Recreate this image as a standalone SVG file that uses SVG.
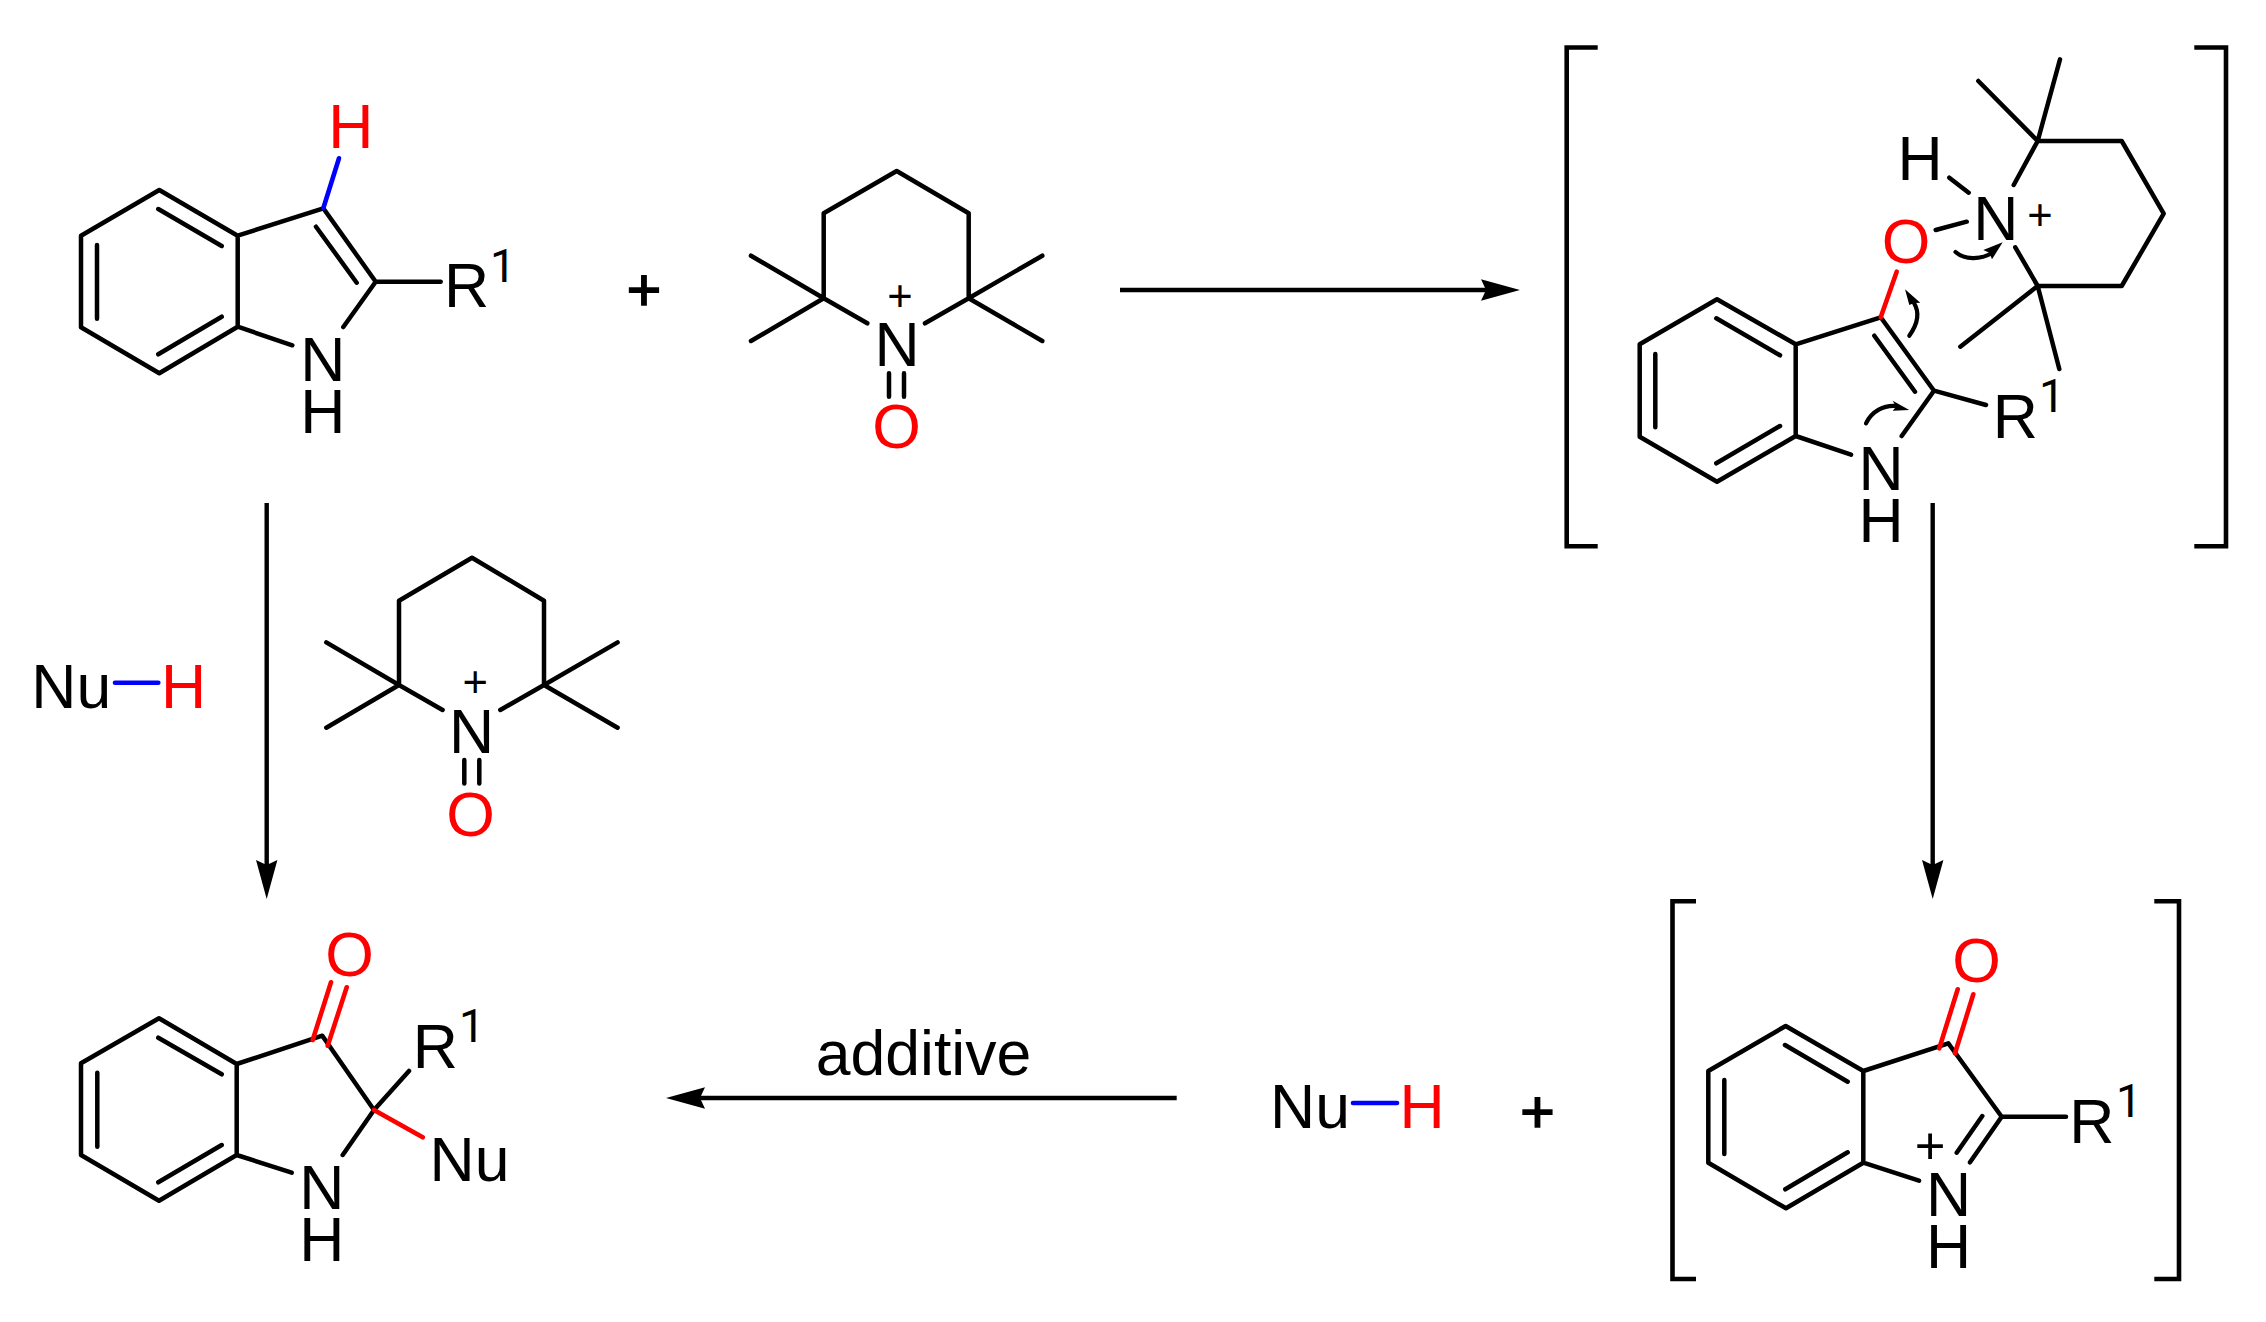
<svg xmlns="http://www.w3.org/2000/svg" width="2266" height="1322" viewBox="0 0 2266 1322">
<style>
text{font-family:"Liberation Sans",Arial,sans-serif;font-size:62.5px;fill:#000}
.m{text-anchor:middle}
.r{fill:#f00}
.sup{font-family:Roboto,"Liberation Sans",sans-serif;font-size:46px}
.p1{font-size:43.5px;text-anchor:middle}
.p2{font-size:59px;text-anchor:middle;stroke:#000;stroke-width:1.6}
.p3{font-size:52.6px;text-anchor:middle}
.add{font-size:62.5px;text-anchor:middle}
.b{fill:none;stroke:#000;stroke-width:4.5;stroke-linecap:round;stroke-linejoin:round}
.rb{fill:none;stroke:#f00;stroke-width:4.6;stroke-linecap:round}
.bb{fill:none;stroke:#00f;stroke-width:4.6;stroke-linecap:round}
.br{fill:none;stroke:#000;stroke-width:4.6}
.ar{fill:none;stroke:#000;stroke-width:4.4;marker-end:url(#head)}
.ca{fill:none;stroke:#000;stroke-width:4.2;stroke-linecap:round}
</style>
<defs>
<marker id="head" markerUnits="userSpaceOnUse" markerWidth="40" markerHeight="22" refX="14" refY="10.7" orient="auto" overflow="visible">
<path d="M0,0L39,10.7L0,21.4L5,10.7Z" fill="#000"/>
</marker>
</defs>
<g id="connectors">
<line class="ar" x1="1120" y1="290" x2="1495" y2="290"/>
<line class="ar" x1="266.7" y1="503" x2="266.7" y2="874"/>
<line class="ar" x1="1932.7" y1="503" x2="1932.7" y2="874"/>
<line class="ar" x1="1176.7" y1="1098" x2="691" y2="1098"/>
</g>
<g id="indole-reactant">
<path class="b" d="M159.3,190L81,235.7V327.3L159.3,373.3L237.7,326.7V235.7ZM158.3,209L221.7,246M97,245V318.7M158.3,354.3L221.7,316.7M237.7,235.7L323.3,208.3L375.7,281.7L343.3,327M316,226.7L356.7,282.7M237.7,326.7L292.3,345.3M375.7,281.7H440.7"/>
<path class="bb" d="M323.3,208.3L339,158.3"/>
<text class="m r" x="350.8" y="147.7">H</text>
<text x="444" y="306.7">R</text>
<text class="sup" x="490" y="281.7">1</text>
<text class="m" x="322.8" y="380.7">N</text>
<text class="m" x="322.8" y="432.5">H</text>
</g>
<text id="plus-1" class="p2" x="644" y="310">+</text>
<g id="tempo-1">
<path class="b" d="M867.3,323.3L823.7,298.3V213.3L896.7,171L968.7,213.3V298.3L925,323.3M751,255.7L823.7,298.3L751,341M1042.3,255.7L968.7,298.3L1042.3,341M889,373.3V396.7M904,373.3V396.7"/>
<text class="p1" x="900" y="310.5">+</text>
<text class="m" x="897" y="366">N</text>
<text class="m r" x="896.5" y="448.3">O</text>
</g>
<g id="intermediate">
<path class="br" d="M1597.7,47.5H1566.7V546.3H1597.7M2194.3,47.5H2226V546.3H2194.3"/>
<path class="b" d="M1717,299.3L1639.7,344.3V436.7L1717,481.7L1795.7,436V344.3ZM1716.3,318.3L1780,355.3M1655.3,354V427.3M1716.3,463.3L1780,426M1795.7,344.3L1880.7,317.3L1934,390.7L1901.7,436M1874.3,335.7L1915,391.7M1795.7,436L1851,454.7M1934,390.7L1986,405"/>
<path class="rb" d="M1880.7,317.3L1896.7,271.7"/>
<path class="b" d="M1935.7,230L1966.7,221.7M1949.3,177.7L1968.7,192.7M2013.7,185L2037.7,141H2121.7L2163.7,213.7L2121.7,286H2037.7L2015.3,247.3M2060,59.3L2037.7,141L1978.3,81M1960.3,346.7L2037.7,286L2059.3,369"/>
<text class="m r" x="1906" y="262.5">O</text>
<text class="m" x="1920" y="180">H</text>
<text class="m" x="1995.8" y="240">N</text>
<text class="p1" x="2040" y="230">+</text>
<text x="1992.7" y="437.5">R</text>
<text class="sup" x="2039" y="412.3">1</text>
<text class="m" x="1881" y="490">N</text>
<text class="m" x="1881" y="541.7">H</text>
<path class="ca" d="M1955.5,252C1965,260 1980,260 1992,253"/>
<path d="M2002.7,242.3L1983.3,250L1989.3,252.7L1992,259.3Z"/>
<path class="ca" d="M1909.3,335.7C1917,325 1920,313 1914,303"/>
<path d="M1905,289.3L1920.3,302.7L1914.3,303L1909.3,305Z"/>
<path class="ca" d="M1866,423.3C1872,411 1884,405 1896,406"/>
<path d="M1909.3,410L1892.7,400.7L1896,406.7L1892.7,410.7Z"/>
</g>
<g id="nu-h-left">
<text x="31.3" y="707.7">Nu</text>
<path class="bb" d="M115,682.7H158.3"/>
<text class="m r" x="183.5" y="707.7">H</text>
</g>
<g id="tempo-2">
<path class="b" d="M442.6,710L399,685V600.7L472,557.7L544,600.7V685L500.3,710M326.3,642.4L399,685L326.3,727.7M617.6,642.4L544,685L617.6,727.7M464.3,760V783.4M479.3,760V783.4"/>
<text class="p1" x="475.3" y="697.2">+</text>
<text class="m" x="471.5" y="752.7">N</text>
<text class="m r" x="470.6" y="835.7">O</text>
</g>
<g id="product">
<path class="b" d="M159,1018.3L81,1063.3V1155L159,1200.7L236.7,1155V1064ZM158.3,1037.7L221.7,1074.3M97.3,1072.7V1146.7M158.3,1182.3L221.7,1145M236.7,1064L322.3,1035.7L374,1110L342.7,1155M236.7,1155L291.7,1172.7M374,1110L409,1071"/>
<path class="rb" d="M312.7,1040L331,982.3M327.7,1045.7L346.7,987.3M374,1110L422.7,1137.3"/>
<text class="m r" x="349.5" y="976">O</text>
<text x="412.7" y="1067.7">R</text>
<text class="sup" x="459" y="1041.7">1</text>
<text x="429.5" y="1180.7">Nu</text>
<text class="m" x="321.8" y="1209">N</text>
<text class="m" x="321.8" y="1260.7">H</text>
</g>
<text id="additive" class="add" x="923.5" y="1075">additive</text>
<g id="nu-h-right">
<text x="1270" y="1128">Nu</text>
<path class="bb" d="M1353,1103H1397"/>
<text class="m r" x="1422" y="1128">H</text>
</g>
<text id="plus-2" class="p2" x="1537.5" y="1132">+</text>
<g id="iminium">
<path class="br" d="M1696,901.3H1672.5V1279H1696M2154.3,901.3H2179V1279H2154.3"/>
<path class="b" d="M1785.7,1026L1708.3,1071V1162.7L1786,1208.3L1863.3,1162.7V1071ZM1785,1045L1847.7,1081.7M1724.3,1080V1154M1785.3,1189.3L1847.7,1152.3M1863.3,1071L1948.3,1043.3L2001.7,1116.7L1970,1162.3M1982.3,1116L1956.7,1152.7M1863.3,1162.7L1919,1180.7M2001.7,1116.7H2066"/>
<path class="rb" d="M1939.3,1048.3L1957.7,989.3M1955,1053.3L1973.3,994.3"/>
<text class="m r" x="1976.5" y="982">O</text>
<text class="p3" x="1930" y="1164.3">+</text>
<text x="2069.3" y="1142.7">R</text>
<text class="sup" x="2116" y="1116.7">1</text>
<text class="m" x="1948.5" y="1215.7">N</text>
<text class="m" x="1948.5" y="1267.7">H</text>
</g>
</svg>
